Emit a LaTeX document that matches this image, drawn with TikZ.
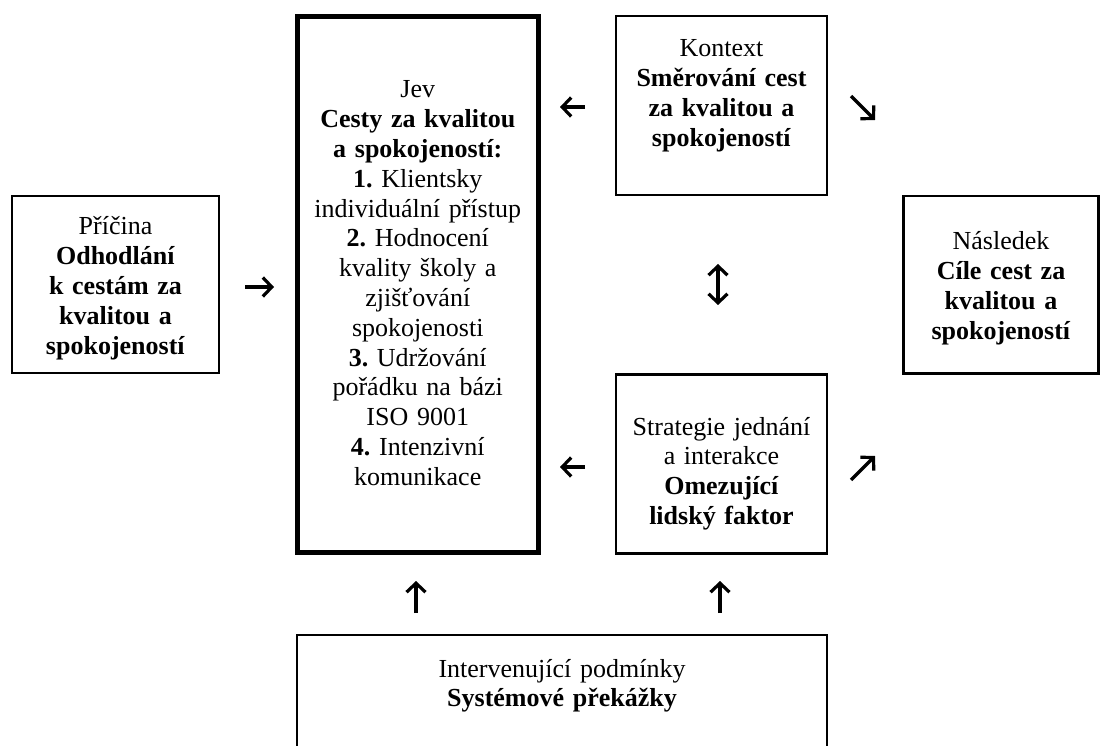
\documentclass[tikz,border=0pt]{standalone}
\usepackage{fontspec}
\setmainfont{Liberation Serif}
\usetikzlibrary{arrows.meta}
\begin{document}
\frenchspacing
\begin{tikzpicture}[x=1pt,y=-1pt,
  box/.style={draw, line width=2.6pt, inner sep=0pt},
  mainbox/.style={draw, line width=5pt, inner sep=0pt},
  txt/.style={align=center, text width=300pt, anchor=base, inner sep=0pt,
              font=\fontsize{26}{29.8}\selectfont},
  tipshape/.tip={Straight Barb[length=9pt,width=19pt]},
  arr/.style={line width=3.2pt, -tipshape},
  darr/.style={line width=3.2pt, tipshape-tipshape}]

\clip (0,0) rectangle (1104,746);
\fill[white] (0,0) rectangle (1104,746);

% boxes
\node[box, minimum width=207pt, minimum height=177pt] (cause) at (115.5,284.5) {};
\node[mainbox, minimum width=240.5pt, minimum height=535pt] (phen) at (417.75,284.5) {};
\node[box, minimum width=211pt, minimum height=179pt] (ctx) at (721.5,105.5) {};
\node[box, minimum width=211pt, minimum height=179pt] (strat) at (721.5,464) {};
\node[box, minimum width=195pt, minimum height=177.5pt] (cons) at (1001,284.75) {};
\node[box, minimum width=530pt, minimum height=165pt] (interv) at (562,717.5) {};

% texts
\node[txt] (causetxt) at (115.5,235) {Příčina\\\textbf{Odhodlání}\\\textbf{k cestám za}\\\textbf{kvalitou a}\\\textbf{spokojeností}};
\node[txt] (phentxt) at (417.75,98) {Jev\\\textbf{Cesty za kvalitou}\\\textbf{a spokojeností:}\\\textbf{1.} Klientsky\\individuální přístup\\\textbf{2.} Hodnocení\\kvality školy a\\zjišťování\\spokojenosti\\\textbf{3.} Udržování\\pořádku na bázi\\ISO 9001\\\textbf{4.} Intenzivní\\komunikace};
\node[txt] (ctxtxt) at (721.5,57) {Kontext\\\textbf{Směrování cest}\\\textbf{za kvalitou a}\\\textbf{spokojeností}};
\node[txt] (strattxt) at (721.5,435) {Strategie jednání\\a interakce\\\textbf{Omezující}\\\textbf{lidský faktor}};
\node[txt] (constxt) at (1001,250) {Následek\\\textbf{Cíle cest za}\\\textbf{kvalitou a}\\\textbf{spokojeností}};
\node[txt] (intervtxt) at (562,677) {Intervenující podmínky\\\textbf{Systémové překážky}};

% arrow end points
\coordinate (r1) at (245,287);   \coordinate (r2) at (274,287);
\coordinate (lt1) at (585,107);  \coordinate (lt2) at (560,107);
\coordinate (lb1) at (585,467);  \coordinate (lb2) at (560,467);
\coordinate (dd1) at (851,96);   \coordinate (dd2) at (875,120);
\coordinate (du1) at (851,480);  \coordinate (du2) at (875,456);
\coordinate (v1) at (718,264);   \coordinate (v2) at (718,305);
\coordinate (ul1) at (416,613);  \coordinate (ul2) at (416,581);
\coordinate (ur1) at (720,613);  \coordinate (ur2) at (720,581);

% arrows
\draw[arr] (r1) -- (r2);
\draw[arr] (lt1) -- (lt2);
\draw[arr] (lb1) -- (lb2);
\draw[arr] (dd1) -- (dd2);
\draw[arr] (du1) -- (du2);
\draw[darr] (v1) -- (v2);
\draw[arr] (ul1) -- (ul2);
\draw[arr] (ur1) -- (ur2);
\end{tikzpicture}
\end{document}
